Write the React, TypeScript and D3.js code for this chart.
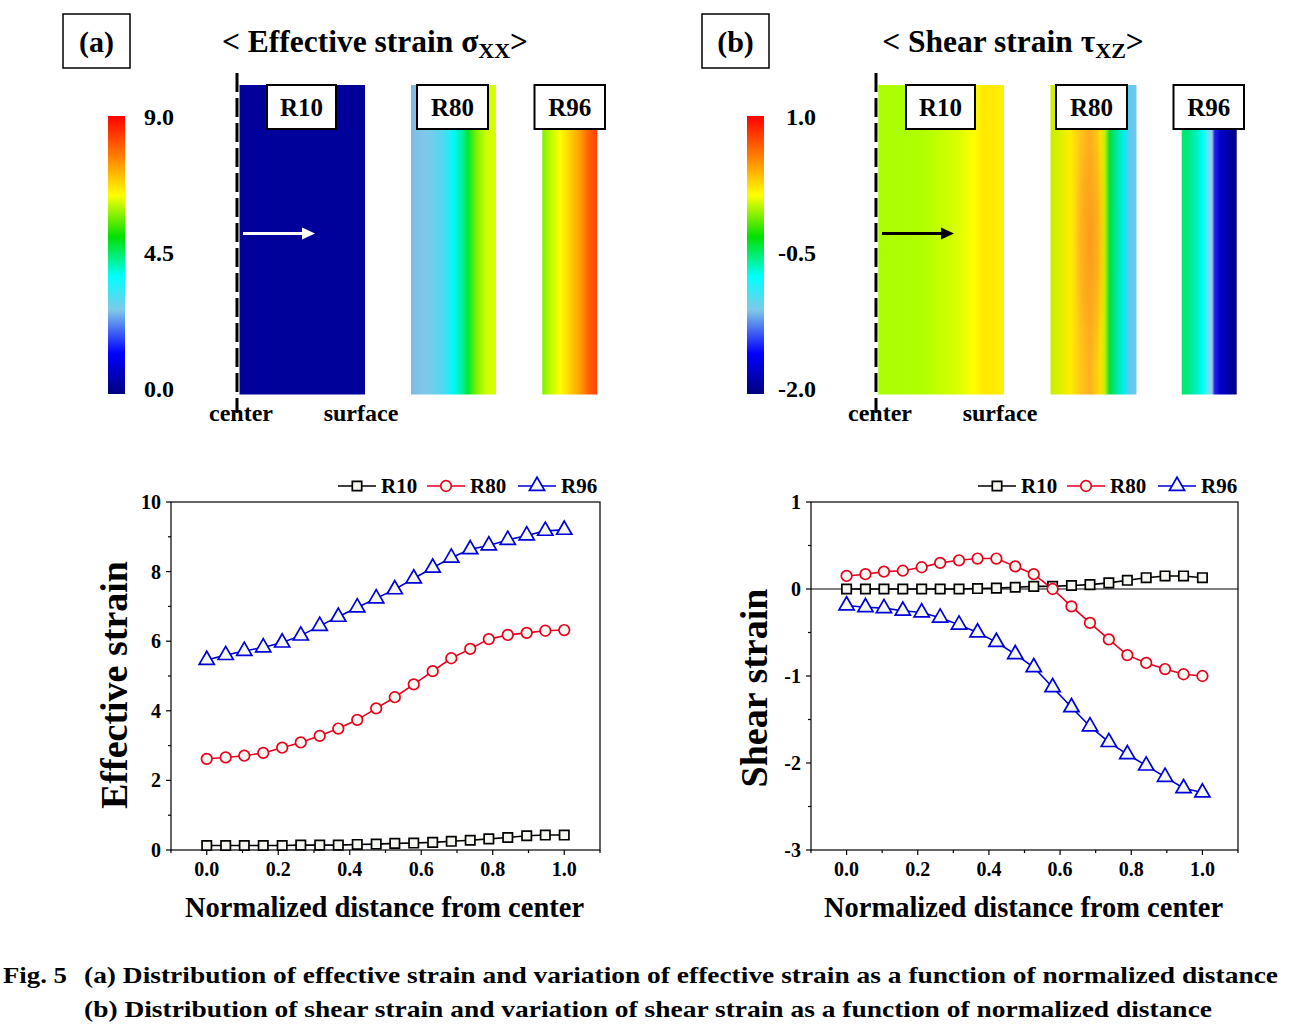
import React from 'react';
import * as d3 from 'd3';

// ---------- data ----------
const distance = [0, 0.053, 0.105, 0.158, 0.211, 0.263, 0.316, 0.368, 0.421, 0.474, 0.526, 0.579, 0.632, 0.684, 0.737, 0.789, 0.842, 0.895, 0.947, 1.0];

const effR10 = [0.13, 0.13, 0.13, 0.13, 0.13, 0.14, 0.14, 0.14, 0.16, 0.17, 0.19, 0.2, 0.22, 0.25, 0.28, 0.32, 0.36, 0.41, 0.43, 0.43];
const effR80 = [2.62, 2.66, 2.71, 2.79, 2.94, 3.09, 3.28, 3.49, 3.74, 4.07, 4.39, 4.76, 5.14, 5.51, 5.78, 6.06, 6.18, 6.24, 6.3, 6.32];
const effR96 = [5.46, 5.6, 5.72, 5.82, 5.96, 6.16, 6.44, 6.7, 6.97, 7.23, 7.49, 7.8, 8.11, 8.4, 8.64, 8.75, 8.91, 9.04, 9.17, 9.2];

const shearR10 = [0, 0, 0, 0, 0, 0, 0, 0.005, 0.01, 0.02, 0.03, 0.03, 0.04, 0.05, 0.07, 0.1, 0.13, 0.15, 0.15, 0.13];
const shearR80 = [0.15, 0.17, 0.2, 0.21, 0.25, 0.3, 0.33, 0.35, 0.35, 0.26, 0.17, 0, -0.2, -0.39, -0.58, -0.76, -0.85, -0.92, -0.98, -1.0];
const shearR96 = [-0.19, -0.21, -0.22, -0.25, -0.27, -0.33, -0.41, -0.5, -0.61, -0.75, -0.9, -1.13, -1.36, -1.58, -1.76, -1.9, -2.03, -2.16, -2.29, -2.34];

const seriesNames = ['R10', 'R80', 'R96'];
const xTickMajor = [0, 0.2, 0.4, 0.6, 0.8, 1.0];
const xTickMinor = [-0.1, 0.1, 0.3, 0.5, 0.7, 0.9, 1.1];
const effTicks = [0, 2, 4, 6, 8, 10];
const effMinor = [1, 3, 5, 7, 9];
const shearTicks = [-3, -2, -1, 0, 1];
const shearMinor = [-2.5, -1.5, -0.5, 0.5];

const effBarLabels = [9.0, 4.5, 0.0];
const shearBarLabels = [1.0, -0.5, -2.0];

const FONT = '"Liberation Serif", "Times New Roman", Times, serif';
const COLORS = ['#000000', '#e8001c', '#0000d8'];
const SYMBOLS = [d3.symbolSquare, d3.symbolCircle, d3.symbolTriangle];
const SIZES = [88, 88, 100];
const MFILL = '#f3f7ef';

const fmt1 = (v: number) => d3.format('.1f')(v).replace('\u2212', '-');

function Marker({ i, x, y }: { i: number; x: number; y: number }) {
  const d = d3.symbol().type(SYMBOLS[i]).size(SIZES[i])() as string;
  return <path d={d} transform={`translate(${x},${y})`} fill={MFILL} stroke={COLORS[i]} strokeWidth={1.7} />;
}

type ChartProps = {
  x0: number; x1: number; y0: number; y1: number;
  series: number[][];
  yDomain: [number, number];
  yTicks: number[]; yMinor: number[];
  yTitle: string; yTitleX: number; yTitleY: number;
  zeroLine?: boolean;
};

function LineChart(p: ChartProps) {
  const x = d3.scaleLinear().domain([-0.1, 1.1]).range([p.x0, p.x1]);
  const y = d3.scaleLinear().domain(p.yDomain).range([p.y1, p.y0]);
  const line = d3.line<number>().x((_, k) => x(distance[k])).y((v) => y(v));
  const legendStart = p.x0 + 167;
  const legendOffsets = [0, 89, 180];
  const legY = 486;
  return (
    <g fontFamily={FONT} fontWeight="bold">
      <rect x={p.x0} y={p.y0} width={p.x1 - p.x0} height={p.y1 - p.y0} fill="none" stroke="#000" strokeWidth={1.2} />
      {p.zeroLine && <line x1={p.x0} x2={p.x1} y1={y(0)} y2={y(0)} stroke="#000" strokeWidth={1.2} />}
      {p.yTicks.map((t) => (
        <g key={'yt' + t}>
          <line x1={p.x0 - 5} x2={p.x0} y1={y(t)} y2={y(t)} stroke="#000" strokeWidth={1.2} />
          <text x={p.x0 - 10} y={y(t)} dy="0.35em" textAnchor="end" fontSize={20}>{String(t)}</text>
        </g>
      ))}
      {p.yMinor.map((t) => (
        <line key={'ym' + t} x1={p.x0 - 3} x2={p.x0} y1={y(t)} y2={y(t)} stroke="#000" strokeWidth={1.2} />
      ))}
      {xTickMajor.map((t) => (
        <g key={'xt' + t}>
          <line x1={x(t)} x2={x(t)} y1={p.y1} y2={p.y1 + 5} stroke="#000" strokeWidth={1.2} />
          <text x={x(t)} y={p.y1 + 26} textAnchor="middle" fontSize={20}>{fmt1(t)}</text>
        </g>
      ))}
      {xTickMinor.map((t) => (
        <line key={'xm' + t} x1={x(t)} x2={x(t)} y1={p.y1} y2={p.y1 + 3} stroke="#000" strokeWidth={1.2} />
      ))}
      {p.series.map((s, i) => (
        <path key={'l' + i} d={line(s) as string} fill="none" stroke={COLORS[i]} strokeWidth={1.6} />
      ))}
      {p.series.map((s, i) =>
        s.map((v, k) => <Marker key={'m' + i + '_' + k} i={i} x={x(distance[k])} y={y(v)} />)
      )}
      {seriesNames.map((n, i) => {
        const lx = legendStart + legendOffsets[i];
        return (
          <g key={'lg' + n}>
            <line x1={lx} x2={lx + 38} y1={legY} y2={legY} stroke={COLORS[i]} strokeWidth={1.6} />
            <Marker i={i} x={lx + 19} y={legY} />
            <text x={lx + 43} y={legY + 7} fontSize={21}>{n}</text>
          </g>
        );
      })}
      <text x={(p.x0 + p.x1) / 2 - 1} y={917} textAnchor="middle" fontSize={28.5}>Normalized distance from center</text>
      <text transform={`translate(${p.yTitleX},${p.yTitleY}) rotate(-90)`} textAnchor="middle" fontSize={38}>{p.yTitle}</text>
    </g>
  );
}

type Stop = [number, string];
const cmapStops: Stop[] = [[0, '#ff0000'], [0.147, '#ff8000'], [0.285, '#ffff00'], [0.435, '#00e000'], [0.578, '#00ffff'], [0.698, '#80c8e8'], [0.854, '#0000ff'], [1, '#000080']];
const gA80: Stop[] = [[0, '#7cbce8'], [0.18, '#80c8ea'], [0.38, '#50d8f0'], [0.5, '#00f8f8'], [0.6, '#00f0a0'], [0.67, '#00e830'], [0.77, '#80f000'], [0.89, '#d0ff00'], [1, '#d8ff00']];
const gA96: Stop[] = [[0, '#80f000'], [0.2, '#d0ff00'], [0.32, '#ffff00'], [0.5, '#ffd000'], [0.68, '#ffa000'], [0.84, '#ff6000'], [1, '#ff4000']];
const gB10: Stop[] = [[0, '#a8ff00'], [0.36, '#b0ff00'], [0.62, '#d8ff00'], [0.76, '#ffff00'], [0.84, '#ffe800'], [1, '#fff000']];
const gB80: Stop[] = [[0, '#c8f000'], [0.1, '#d8f000'], [0.23, '#ffee00'], [0.34, '#ffc818'], [0.46, '#ffb020'], [0.58, '#ffe000'], [0.63, '#c0f000'], [0.69, '#00e040'], [0.77, '#00e8a0'], [0.85, '#00f0f0'], [0.92, '#60c8f0'], [1, '#70c8f0']];
const gB96: Stop[] = [[0, '#00e870'], [0.09, '#00e878'], [0.27, '#00f0c0'], [0.39, '#00ffff'], [0.48, '#60e8f0'], [0.55, '#a0c8f0'], [0.6, '#2020e0'], [0.7, '#0000d0'], [0.88, '#0000a0'], [1, '#000080']];

function Grad({ id, stops, vertical }: { id: string; stops: Stop[]; vertical?: boolean }) {
  return (
    <linearGradient id={id} x1="0" y1="0" x2={vertical ? '0' : '1'} y2={vertical ? '1' : '0'}>
      {stops.map(([o, c], k) => <stop key={k} offset={o} stopColor={c} />)}
    </linearGradient>
  );
}

function LabelBox({ x, y, w, h, text }: { x: number; y: number; w: number; h: number; text: string }) {
  return (
    <g>
      <rect x={x} y={y} width={w} height={h} fill="#fff" stroke="#000" strokeWidth={2} />
      <text x={x + w / 2} y={y + h / 2} dy="0.35em" textAnchor="middle" fontSize={25} fontFamily={FONT} fontWeight="bold">{text}</text>
    </g>
  );
}

function Arrow({ x1, x2, y, color }: { x1: number; x2: number; y: number; color: string }) {
  return (
    <g>
      <line x1={x1} x2={x2 - 10} y1={y} y2={y} stroke={color} strokeWidth={3} />
      <path d={`M${x2},${y} L${x2 - 13},${y - 6} L${x2 - 13},${y + 6} Z`} fill={color} />
    </g>
  );
}

function TopPanel(props: {
  ox: number; tag: string; titleMain: string; titleSub: string; titleX: number;
  barLabels: number[]; barDomain: [number, number]; labelAnchor: 'start' | 'end'; labelX: number;
  strips: { x: number; w: number; fill: string }[]; arrowColor: string; extra?: React.ReactNode;
}) {
  const { ox } = props;
  const ly = d3.scaleLinear().domain(props.barDomain).range([389, 117]);
  return (
    <g fontFamily={FONT} fontWeight="bold">
      <rect x={ox + 63} y={14} width={67} height={54} fill="#fff" stroke="#000" strokeWidth={1.5} />
      <text x={ox + 96.5} y={52} textAnchor="middle" fontSize={30}>{props.tag}</text>
      <text x={props.titleX} y={52} textAnchor="middle" fontSize={31.5}>
        {props.titleMain}
        <tspan fontSize={22} dy={6}>{props.titleSub}</tspan>
        <tspan fontSize={31.5} dy={-6}>{'>'}</tspan>
      </text>
      <rect x={ox + 108} y={116} width={17} height={278} fill="url(#cmap)" />
      {props.barLabels.map((v) => (
        <text key={v} x={props.labelX} y={ly(v)} dy="0.35em" textAnchor={props.labelAnchor} fontSize={24}>{fmt1(v)}</text>
      ))}
      {props.strips.map((s, k) => (
        <rect key={k} x={s.x} y={85} width={s.w} height={309.5} fill={s.fill} />
      ))}
      {props.extra}
      <line x1={ox + 237} x2={ox + 237} y1={73} y2={413} stroke="#000" strokeWidth={3} strokeDasharray="19 6" />
      <Arrow x1={ox + 243} x2={ox + 315} y={233.5} color={props.arrowColor} />
      <LabelBox x={ox + 267} y={85} w={69} h={44} text="R10" />
      <LabelBox x={ox + 417} y={85} w={71} h={44} text="R80" />
      <LabelBox x={ox + 534.5} y={85} w={70.5} h={44} text="R96" />
      <text x={ox + 241} y={421} textAnchor="middle" fontSize={24}>center</text>
      <text x={ox + 361} y={421} textAnchor="middle" fontSize={24}>surface</text>
    </g>
  );
}

export default function App() {
  return (
    <svg width={1293} height={1024} style={{ position: 'absolute', left: 0, top: 0, background: '#fff' }}>
      <defs>
        <Grad id="cmap" stops={cmapStops} vertical />
        <Grad id="gA80" stops={gA80} />
        <Grad id="gA96" stops={gA96} />
        <Grad id="gB10" stops={gB10} />
        <Grad id="gB80" stops={gB80} />
        <Grad id="gB96" stops={gB96} />
        <radialGradient id="hot" cx="0.5" cy="0.5" r="0.5">
          <stop offset={0} stopColor="#ff9818" stopOpacity={0.95} />
          <stop offset={0.6} stopColor="#ffa020" stopOpacity={0.5} />
          <stop offset={1} stopColor="#ffb020" stopOpacity={0} />
        </radialGradient>
      </defs>
      <rect x={0} y={0} width={1293} height={1024} fill="#fff" />
      <TopPanel ox={0} tag="(a)" titleMain="< Effective strain σ" titleSub="XX" titleX={375}
        barLabels={effBarLabels} barDomain={[0, 9]} labelAnchor="start" labelX={144}
        strips={[{ x: 239.5, w: 125.5, fill: '#00009a' }, { x: 411, w: 85, fill: 'url(#gA80)' }, { x: 542.3, w: 55, fill: 'url(#gA96)' }]}
        arrowColor="#fff" />
      <TopPanel ox={639} tag="(b)" titleMain="< Shear strain τ" titleSub="XZ" titleX={1013}
        barLabels={shearBarLabels} barDomain={[-2, 1]} labelAnchor="end" labelX={816}
        strips={[{ x: 878.3, w: 125.7, fill: 'url(#gB10)' }, { x: 1050.5, w: 86, fill: 'url(#gB80)' }, { x: 1181.7, w: 55, fill: 'url(#gB96)' }]}
        arrowColor="#000"
        extra={<ellipse cx={1090} cy={240} rx={16} ry={140} fill="url(#hot)" />} />
      <LineChart x0={171} x1={600} y0={502} y1={850} series={[effR10, effR80, effR96]} yDomain={[0, 10]}
        yTicks={effTicks} yMinor={effMinor} yTitle="Effective strain" yTitleX={127} yTitleY={685} />
      <LineChart x0={811} x1={1238} y0={502} y1={850} series={[shearR10, shearR80, shearR96]} yDomain={[-3, 1]}
        yTicks={shearTicks} yMinor={shearMinor} yTitle="Shear strain" yTitleX={767} yTitleY={688} zeroLine />
      <g fontFamily={FONT} fontWeight="bold" fontSize={23}>
        <text x={3} y={983} textLength={64} lengthAdjust="spacingAndGlyphs">Fig. 5</text>
        <text x={84} y={983} textLength={1194} lengthAdjust="spacingAndGlyphs">(a) Distribution of effective strain and variation of effective strain as a function of normalized distance</text>
        <text x={84} y={1016.5} textLength={1128} lengthAdjust="spacingAndGlyphs">(b) Distribution of shear strain and variation of shear strain as a function of normalized distance</text>
      </g>
    </svg>
  );
}
